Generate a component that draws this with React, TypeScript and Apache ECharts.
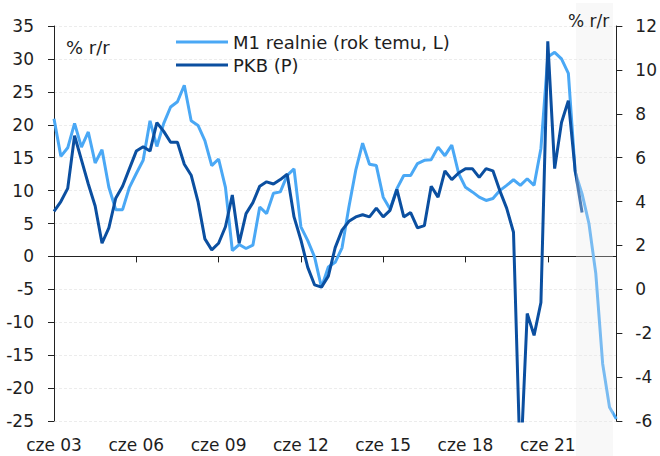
import React, { useEffect, useRef } from "react";
import * as echarts from "echarts";

// Quarterly categories: Q2 2003 (cze 03) .. Q4 2023
const startYear = 2003;
const monthNames = ["mar", "cze", "wrz", "gru"];
const categories: string[] = [];
for (let i = 0; i < 83; i++) {
  const q = 1 + i; // start at 2nd quarter (index 1 in monthNames)
  const y = startYear + Math.floor(q / 4);
  categories.push(`${monthNames[q % 4]} ${String(y % 100).padStart(2, "0")}`);
}

const m1Real: number[] = [
  20.9, 15.2, 16.5, 20.2, 16.6, 18.9, 14.2, 16.2, 10.5, 7.1,
  7.1, 10.5, 12.6, 14.6, 20.6, 16.7, 20.2, 22.7, 23.5, 26.0,
  20.6, 19.9, 17.6, 13.8, 14.8, 10.5, 0.9, 1.8, 1.2, 1.7,
  7.5, 6.5, 9.6, 9.8, 12.3, 13.3, 4.5, 2.4, -0.1, -4.7,
  -1.6, -0.9, 1.3, 7.5, 13.1, 17.2, 14.0, 13.8, 9.0, 7.2,
  10.3, 12.3, 12.3, 14.1, 14.6, 14.7, 16.6, 15.3, 16.9, 12.6,
  10.5, 9.8, 9.0, 8.5, 8.8, 10.0, 10.8, 11.65, 10.8, 11.8,
  10.8, 16.4, 30.3, 31.0, 30.0, 27.8, 12.8, 9.5, 5.0, -2.6,
  -16.3, -22.9, -24.7,
];

const pkb: (number | null)[] = [
  3.55, 4.0, 4.6, 7.0, 5.9, 4.8, 3.8, 2.1, 2.8, 4.15,
  4.7, 5.5, 6.3, 6.5, 6.3, 7.6, 7.2, 6.7, 6.7, 5.7,
  5.2, 4.0, 2.3, 1.8, 2.1, 2.85, 4.3, 2.1, 3.45, 3.95,
  4.7, 4.9, 4.8, 5.0, 5.25, 3.3, 2.25, 1.0, 0.2, 0.1,
  0.6, 1.9, 2.7, 3.1, 3.3, 3.4, 3.3, 3.7, 3.3, 3.6,
  4.55, 3.3, 3.5, 2.8, 2.9, 4.7, 4.2, 5.4, 5.0, 5.3,
  5.5, 5.5, 5.1, 5.5, 5.4, 4.5, 3.7, 2.6, -8.2, -1.1,
  -2.1, -0.6, 11.3, 5.5, 7.6, 8.6, 5.4, 3.5,
];

const seriesNames = ["M1 realnie (rok temu, L)", "PKB (P)"];
const unitLabel = "% r/r";

const FONT = "'DejaVu Sans', sans-serif";
const TXT = "#1e1e1e";
const FS = 17;
const FS_LEG = 18;

export default function App() {
  const ref = useRef<HTMLDivElement>(null);
  useEffect(() => {
    if (!ref.current) return;
    const chart = echarts.init(ref.current, null, { renderer: "svg" });
    chart.setOption({
      animation: false,
      backgroundColor: "#ffffff",
      textStyle: { fontFamily: FONT },
      grid: { left: 54, right: 43, top: 26, bottom: 35, containLabel: false },
      legend: {
        orient: "vertical",
        left: 171,
        top: 28,
        itemWidth: 52,
        itemHeight: 3,
        itemGap: 5,
        icon: "rect",
        data: seriesNames,
        textStyle: { fontSize: FS_LEG, color: TXT, fontFamily: FONT },
      },
      xAxis: [
        {
          type: "category",
          data: categories,
          boundaryGap: false,
          axisLine: { show: false, onZero: false },
          axisTick: { show: false },
          axisLabel: {
            interval: 11,
            margin: 15,
            fontSize: FS,
            color: TXT,
            fontFamily: FONT,
          },
          splitLine: { show: false },
        },
        {
          type: "category",
          data: categories,
          boundaryGap: false,
          position: "bottom",
          axisLine: {
            show: true,
            onZero: true,
            onZeroAxisIndex: 0,
            lineStyle: { color: "#222", width: 1 },
          },
          axisTick: {
            show: true,
            interval: 11,
            length: 6,
            lineStyle: { color: "#222" },
          },
          axisLabel: { show: false },
          splitLine: { show: false },
        },
      ],
      yAxis: [
        {
          type: "value",
          position: "left",
          min: -25,
          max: 35,
          interval: 5,
          axisLine: { show: true, lineStyle: { color: "#222" } },
          axisTick: { show: true, length: 6, lineStyle: { color: "#222" } },
          axisLabel: { fontSize: FS, color: TXT, margin: 20, fontFamily: FONT },
          splitLine: {
            show: true,
            lineStyle: { color: "#ececec", type: [3, 2], width: 1 },
          },
        },
        {
          type: "value",
          position: "right",
          min: -6,
          max: 12,
          interval: 2,
          axisLine: { show: true, lineStyle: { color: "#222" } },
          axisTick: { show: true, length: 6, lineStyle: { color: "#222" } },
          axisLabel: { fontSize: FS, color: TXT, margin: 19, fontFamily: FONT },
          splitLine: { show: false },
        },
      ],
      series: [
        {
          name: seriesNames[0],
          type: "line",
          xAxisIndex: 0,
          yAxisIndex: 0,
          data: m1Real,
          symbol: "none",
          lineStyle: { width: 3, color: "#4aa8f5" },
          itemStyle: { color: "#4aa8f5" },
          z: 2,
        },
        {
          name: seriesNames[1],
          type: "line",
          xAxisIndex: 0,
          yAxisIndex: 1,
          data: pkb,
          symbol: "none",
          lineStyle: { width: 3, color: "#0b4fa0" },
          itemStyle: { color: "#0b4fa0" },
          z: 3,
        },
      ],
      graphic: [
        {
          type: "rect",
          shape: { x: 576, y: 3, width: 37, height: 453 },
          style: { fill: "rgba(232,232,232,0.3)" },
          z: 100,
          silent: true,
        },
        {
          type: "text",
          x: 66,
          y: 47,
          style: {
            text: unitLabel,
            fontSize: FS_LEG,
            fill: TXT,
            fontFamily: FONT,
            verticalAlign: "middle",
            align: "left",
          },
          z: 101,
        },
        {
          type: "text",
          x: 568,
          y: 21,
          style: {
            text: unitLabel,
            fontSize: FS,
            fill: TXT,
            fontFamily: FONT,
            verticalAlign: "middle",
            align: "left",
          },
          z: 101,
        },
      ],
    });
    return () => chart.dispose();
  }, []);
  return (
    <div
      ref={ref}
      style={{ position: "fixed", left: 0, top: 0, width: 660, height: 456 }}
    />
  );
}
